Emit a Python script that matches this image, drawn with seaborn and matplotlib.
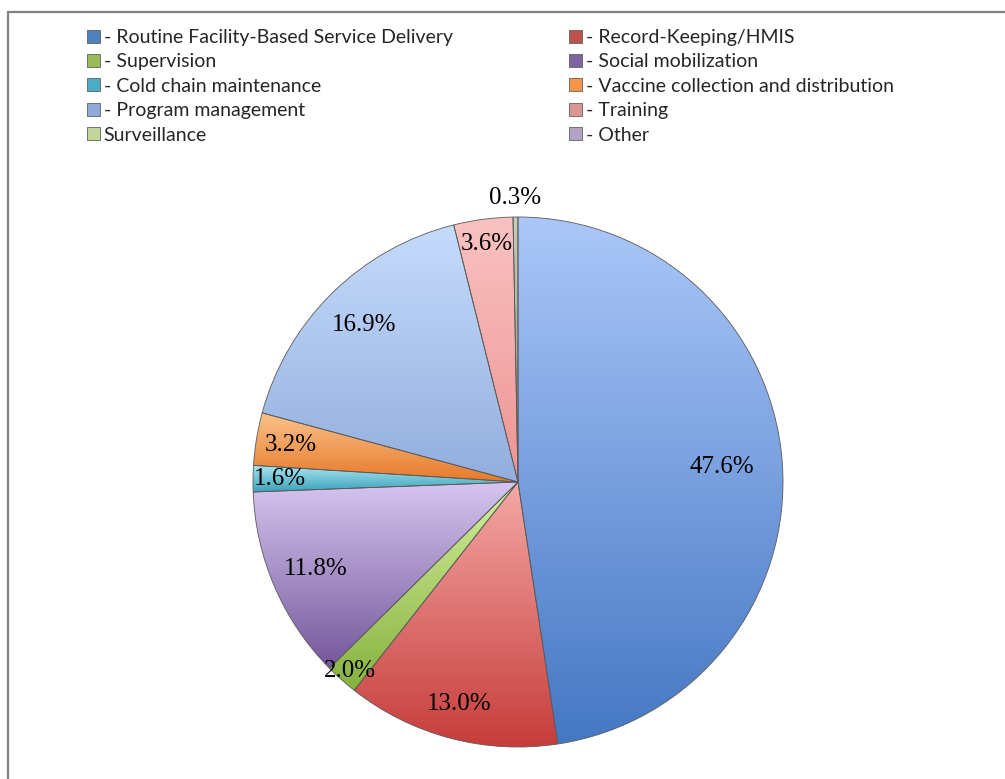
import numpy as np
import seaborn as sns
import matplotlib.pyplot as plt
from matplotlib.patches import Patch, Rectangle
from matplotlib.colors import to_rgb

sns.set_theme(style="white")

# data
categories = ["- Routine Facility-Based Service Delivery", "- Record-Keeping/HMIS",
              "- Supervision", "- Social mobilization",
              "- Cold chain maintenance", "- Vaccine collection and distribution",
              "- Program management", "- Training",
              "Surveillance", "- Other"]
shares = [47.6, 13.0, 2.0, 11.8, 1.6, 3.2, 16.9, 3.6, 0.3, 0.0]

# legend colours and gradient (top, bottom) for each slice
legend_colors = ["#4f81bd", "#c0504d", "#9bbb59", "#8064a2", "#4bacc6",
                 "#f79646", "#8eaadb", "#d99694", "#c3d69b", "#b3a2c7"]
grad_top = ["#abc7f9", "#f5a8a6", "#d6ee9e", "#d6c6f0", "#aae6f2",
            "#fcc28c", "#c6dcfd", "#f9c2c2", "#c4ccb8", "#c2b2da"]
grad_bottom = ["#4577c3", "#c63d3b", "#86b23e", "#75579b", "#3aa2ba",
               "#e57a2a", "#93aedd", "#ef9494", "#8e9484", "#8870a8"]
# radial position of each percentage label (fraction of radius)
label_dist = [0.77, 0.865, 0.955, 0.83, 0.90, 0.87, 0.83, 0.905, 1.07, 0.0]

W, H = 1005, 779
fig = plt.figure(figsize=(W / 100, H / 100), dpi=100)

# pie axes: centre at (518, 482) px, radius 265 px
cx, cy, half = 518, 482, 320
ax = fig.add_axes([(cx - half) / W, (H - cy - half) / H, 2 * half / W, 2 * half / H])
ax.axis("off")
lim = half / 265

wedges, _ = ax.pie(shares, startangle=90, counterclock=False, radius=1,
                   colors=legend_colors,
                   wedgeprops=dict(edgecolor="#5a5a5a", linewidth=0.6))

for w, ct, cb in zip(wedges, grad_top, grad_bottom):
    if w.theta2 - w.theta1 <= 0:
        continue
    bb = w.get_path().get_extents()
    t = np.linspace(0, 1, 256)[:, None, None]
    grad = (1 - t) * np.array(to_rgb(cb)) + t * np.array(to_rgb(ct))
    im = ax.imshow(grad, extent=(bb.x0, bb.x1, bb.y0, bb.y1), origin="lower",
                   aspect="auto", interpolation="bilinear", zorder=1.5)
    im.set_clip_path(w)
    w.set_zorder(2)
    w.set_facecolor("none")

for w, val, d in zip(wedges, shares, label_dist):
    if val <= 0:
        continue
    ang = np.deg2rad((w.theta1 + w.theta2) / 2)
    ax.text(d * np.cos(ang), d * np.sin(ang), f"{val:.1f}%", ha="center", va="center",
            fontsize=18, family="Liberation Serif", color="black", zorder=5)

ax.set_xlim(-lim, lim)
ax.set_ylim(-lim, lim)
ax.set_aspect("equal")

# legend: two columns, row-major order
handles = [Patch(facecolor=c, edgecolor="#606060", linewidth=0.6) for c in legend_colors]
col_x = [87, 569]
for k in range(2):
    idx = list(range(k, len(categories), 2))
    leg = fig.legend([handles[i] for i in idx], [categories[i] for i in idx],
                     loc="upper left", bbox_to_anchor=(col_x[k] / W, 1 - 29 / H),
                     frameon=False, prop=dict(family="Lato", size=14),
                     handlelength=0.65, handleheight=0.65, handletextpad=0.2,
                     labelspacing=0.38, borderpad=0, borderaxespad=0)

# outer frame (right and bottom edges fall outside the image)
fig.add_artist(Rectangle((8 / W, -0.1), 1.2, (H - 12) / H + 0.1, transform=fig.transFigure,
                         fill=False, edgecolor="#808080", linewidth=1.6))

fig.savefig("out.png", dpi=100)
